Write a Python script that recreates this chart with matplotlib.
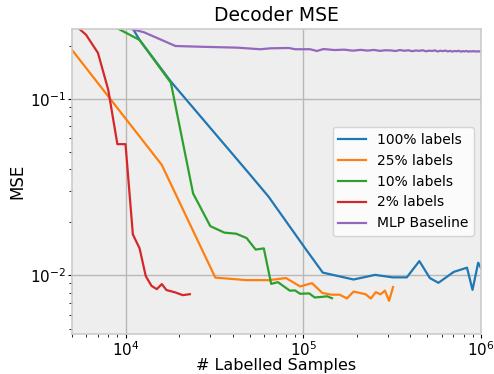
import numpy as np
import matplotlib
matplotlib.use("Agg")
import matplotlib.pyplot as plt

# 100% labels
x_100 = [9000, 12000, 18000, 50400, 63800, 102600, 128800, 191800, 253500, 318000,
         382500, 450000, 515500, 576000, 703000, 834000, 896000, 964000, 1040000]
y_100 = [0.35, 0.215, 0.125, 0.037, 0.0279, 0.01422, 0.01037, 0.00948, 0.01007, 0.00975,
         0.00975, 0.01205, 0.00966, 0.00908, 0.01047, 0.01106, 0.00828, 0.0118, 0.0102]

# 25% labels
x_25 = [5000, 16000, 32000, 48000, 64000, 80000, 96000, 112000, 128000, 144000, 160000,
        176000, 192000, 224000, 240000, 256000, 272000, 288000, 304000, 320000]
y_25 = [0.1888, 0.0422, 0.00972, 0.0094, 0.0094, 0.00966, 0.00866, 0.00904, 0.00796, 0.00778,
        0.00778, 0.00741, 0.0081, 0.00783, 0.0074, 0.00804, 0.00781, 0.0082, 0.00718, 0.00859]

# 10% labels
x_10 = [6000, 12000, 18000, 24000, 30000, 36000, 42000, 48000, 54000, 60000, 66000,
        72000, 84000, 90000, 96000, 108000, 116000, 128000, 136000, 145000]
y_10 = [0.31, 0.215, 0.123, 0.0291, 0.019, 0.01746, 0.01721, 0.01627, 0.014, 0.01422, 0.00895,
        0.00916, 0.0082, 0.00822, 0.00787, 0.00791, 0.0075, 0.00756, 0.00762, 0.00743]

# 2% labels
x_2 = [5000, 6000, 7000, 8000, 9000, 10000, 11000, 12000, 13000, 14000, 15000,
       16000, 17000, 19000, 21000, 23000]
y_2 = [0.27, 0.23, 0.1815, 0.112, 0.0553, 0.0553, 0.01706, 0.01422, 0.00991, 0.00873, 0.00836,
       0.00893, 0.00826, 0.00802, 0.00773, 0.00783]

# MLP baseline
x_mlp_head = [10000, 12700, 19100, 26400, 42500, 57300, 65300, 82700, 90100, 109400, 119300]
y_mlp_head = [0.253, 0.2377, 0.1987, 0.1968, 0.1945, 0.1905, 0.1928, 0.1937, 0.1905, 0.1905, 0.1862]
x_mlp_tail = list(np.arange(130000, 1000001, 20000))
y_mlp_tail = [0.191, 0.1885, 0.1895, 0.1870, 0.1890, 0.1872, 0.1888, 0.1865, 0.1880, 0.1876,
              0.1862, 0.1885, 0.1868, 0.1879, 0.1858, 0.1874, 0.1866, 0.1880, 0.1855, 0.1870,
              0.1862, 0.1877, 0.1850, 0.1868, 0.1858, 0.1873, 0.1852, 0.1865, 0.1848, 0.1862,
              0.1855, 0.1868, 0.1846, 0.1860, 0.1852, 0.1864, 0.1845, 0.1858, 0.1850, 0.1862,
              0.1847, 0.1856, 0.1849, 0.1857]
x_mlp = x_mlp_head + x_mlp_tail
y_mlp = y_mlp_head + y_mlp_tail[:len(x_mlp_tail)]

fig = plt.figure(figsize=(4.94, 3.74), dpi=100)
ax = fig.add_axes([72 / 494, 1 - 334 / 374, 409 / 494, 305 / 374])
ax.set_facecolor('#eeeeee')
lw = 1.6
ax.plot(x_100, y_100, color='#1f77b4', lw=lw, label='100% labels')
ax.plot(x_25, y_25, color='#ff7f0e', lw=lw, label='25% labels')
ax.plot(x_10, y_10, color='#2ca02c', lw=lw, label='10% labels')
ax.plot(x_2, y_2, color='#d62728', lw=lw, label='2% labels')
ax.plot(x_mlp, y_mlp, color='#9467bd', lw=lw, label='MLP Baseline')

ax.set_xscale('log')
ax.set_yscale('log')
ax.set_xlim(5000, 1e6)
ax.set_ylim(0.00466, 0.248)
ax.grid(True, which='major', color='#b8b8b8', lw=1)
ax.set_axisbelow(True)
for s in ax.spines.values():
    s.set_color('#cccccc')
    s.set_linewidth(1.2)
ax.tick_params(labelsize=11, pad=1.5)
ax.tick_params(which='major', length=3)
ax.tick_params(which='minor', length=2)
ax.set_title('Decoder MSE', fontsize=13.5)
ax.set_xlabel('# Labelled Samples', fontsize=11.5, labelpad=-1)
ax.set_ylabel('MSE', fontsize=12, labelpad=2)
leg = ax.legend(loc='center right', fontsize=10, framealpha=0.8)

fig.savefig('out.png', dpi=100)
